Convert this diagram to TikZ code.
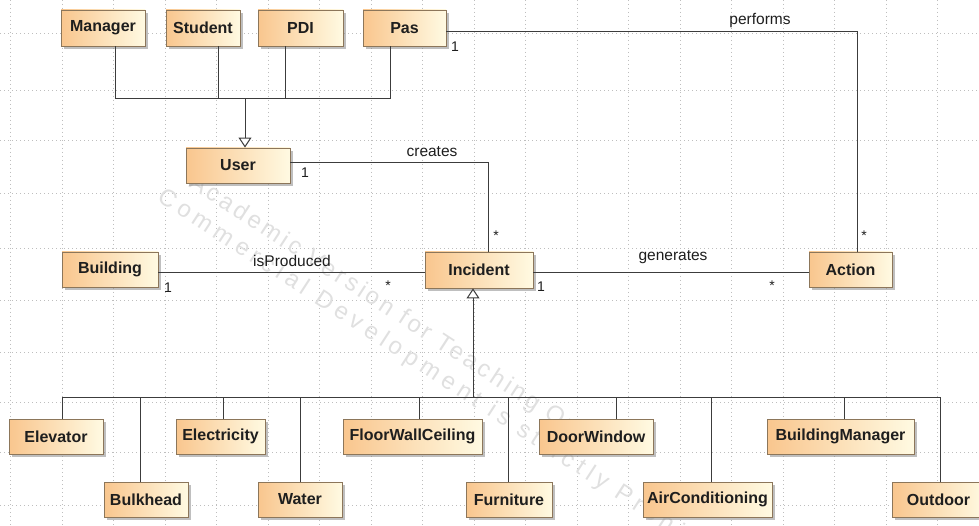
\documentclass[tikz,border=0pt]{standalone}
\usepackage{fontspec}
\setmainfont{Liberation Sans}
\newfontfamily\wmfontA[LetterSpace=14]{Liberation Sans}
\newfontfamily\wmfontB[LetterSpace=22]{Liberation Sans}
\usetikzlibrary{arrows.meta,shadows}
\definecolor{boxL}{RGB}{249,198,142}
\definecolor{boxR}{RGB}{255,250,226}
\definecolor{boxB}{RGB}{140,118,90}
\definecolor{lineC}{RGB}{60,60,60}
\definecolor{txtC}{RGB}{30,30,30}
\definecolor{gridC}{RGB}{190,190,190}
\definecolor{wmC}{RGB}{224,224,224}
\begin{document}
\begin{tikzpicture}[x=1pt,y=-1pt,
  cls/.style={draw=boxB, line width=0.9pt, left color=boxL, right color=boxR,
    drop shadow={shadow xshift=3pt, shadow yshift=-3pt, fill=black!45, opacity=0.55},
    font=\fontsize{16}{18}\selectfont\bfseries, text=txtC, inner sep=0pt},
  conn/.style={draw=lineC, line width=1pt},
  gen/.style={conn, -{Triangle[length=10pt,width=13pt,fill=white]}},
  lbl/.style={font=\fontsize{15.5}{18}\selectfont, text=txtC, inner sep=0pt},
  mult/.style={font=\fontsize{14}{16}\selectfont, text=txtC, inner sep=0pt},
  gridline/.style={draw=gridC, line width=0.6pt, dash pattern=on 0.8pt off 3.2pt},
  wm/.style={text=wmC, inner sep=0pt, anchor=base west, rotate=-33}
]
\useasboundingbox (0,0) rectangle (979,526);
\clip (0,0) rectangle (979,526);
\fill[white] (0,0) rectangle (979,526);
% grid
\foreach \x in {10.5,62,...,950} \draw[gridline] (\x,0) -- (\x,526);
\foreach \y in {33,90,140,193,248,300,352,402,452,505} \draw[gridline] (0,\y) -- (979,\y);
% watermark
\node[wm, font=\wmfontA\fontsize{24}{28}\selectfont] (wm1) at (188,186) {Academic Version for Teaching Only};
\node[wm, font=\wmfontB\fontsize{24}{28}\selectfont] (wm2) at (156,200) {Commercial Development is strictly Prohibited};
% classes
\node[cls, minimum width=84pt, minimum height=36pt] (manager) at (103,28) {Manager};
\node[cls, minimum width=74pt, minimum height=36pt] (student) at (203,28) {Student};
\node[cls, minimum width=85pt, minimum height=36pt] (pdi) at (300.5,28) {PDI};
\node[cls, minimum width=83pt, minimum height=36pt] (pas) at (404.5,28) {Pas};
\node[cls, minimum width=104pt, minimum height=35pt] (user) at (238,165.5) {User};
\node[cls, minimum width=96pt, minimum height=35pt] (building) at (110,269.5) {Building};
\node[cls, minimum width=108pt, minimum height=36pt] (incident) at (479,270) {Incident};
\node[cls, minimum width=83pt, minimum height=35pt] (action) at (850.5,269.5) {Action};
\node[cls, minimum width=94pt, minimum height=35pt] (elevator) at (56,436.5) {Elevator};
\node[cls, minimum width=89pt, minimum height=35pt] (electricity) at (220.5,436.5) {Electricity};
\node[cls, minimum width=139pt, minimum height=35pt] (floor) at (412.5,436.5) {FloorWallCeiling};
\node[cls, minimum width=114pt, minimum height=35pt] (door) at (596,436.5) {DoorWindow};
\node[cls, minimum width=147pt, minimum height=35pt] (bmanager) at (840.5,436.5) {BuildingManager};
\node[cls, minimum width=84pt, minimum height=35pt] (bulkhead) at (146,499.5) {Bulkhead};
\node[cls, minimum width=84pt, minimum height=35pt] (water) at (300,499.5) {Water};
\node[cls, minimum width=86pt, minimum height=35pt] (furniture) at (509,499.5) {Furniture};
\node[cls, minimum width=129pt, minimum height=35pt] (aircon) at (707.5,499.5) {AirConditioning};
\node[cls, minimum width=93pt, minimum height=35pt] (outdoor) at (938.5,499.5) {Outdoor};
% generalization to User
\coordinate (gtop) at (245,99);
\draw[conn] ([xshift=12pt]manager.south) |- (gtop);
\draw[conn] ([xshift=15pt]student.south) |- (gtop);
\draw[conn] ([xshift=-15.5pt]pdi.south) |- (gtop);
\draw[conn] ([xshift=-14.5pt]pas.south) |- (gtop);
\draw[gen] (gtop) -- ([xshift=7pt]user.north);
% generalization to Incident
\coordinate (gbot) at (473,397);
\draw[conn] ([xshift=6pt]elevator.north) |- (gbot);
\draw[conn] ([xshift=-6pt]bulkhead.north) |- (gbot);
\draw[conn] ([xshift=2.5pt]electricity.north) |- (gbot);
\draw[conn] (water.north) |- (gbot);
\draw[conn] ([xshift=6.5pt]floor.north) |- (gbot);
\draw[conn] ([xshift=-1pt]furniture.north) |- (gbot);
\draw[conn] ([xshift=20pt]door.north) |- (gbot);
\draw[conn] ([xshift=3.5pt]aircon.north) |- (gbot);
\draw[conn] ([xshift=3.5pt]bmanager.north) |- (gbot);
\draw[conn] ([xshift=1.5pt]outdoor.north) |- (gbot);
\draw[gen] (gbot) -- ([xshift=-6pt]incident.south);
% associations
\draw[conn] ([yshift=-4pt]pas.east) -| ([xshift=6.5pt]action.north);
\draw[conn] ([yshift=2.5pt]user.east) -| ([xshift=9pt]incident.north);
\draw[conn] ([yshift=-3.5pt]building.east) -- ([yshift=-3pt]incident.west);
\draw[conn] ([yshift=-3pt]incident.east) -- ([yshift=-3.5pt]action.west);
% labels
\node[lbl] (lperf) at (760,21) {performs};
\node[mult] (mpas) at (455,47) {1};
\node[mult] (mact1) at (864,236) {*};
\node[lbl] (lcre) at (432,152) {creates};
\node[mult] (muser) at (305,173) {1};
\node[mult] (minc1) at (496,236) {*};
\node[lbl] (lprod) at (292,261) {isProduced};
\node[mult] (mbuild) at (168,288) {1};
\node[mult] (minc2) at (388,286) {*};
\node[lbl] (lgen) at (673,257) {generates};
\node[mult] (minc3) at (541,287) {1};
\node[mult] (mact2) at (772,286) {*};
\end{tikzpicture}
\end{document}
